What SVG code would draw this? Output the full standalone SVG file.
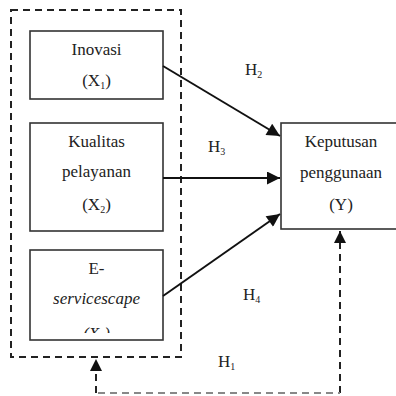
<svg xmlns="http://www.w3.org/2000/svg" width="396" height="396" viewBox="0 0 396 396">
<style>
.box{fill:#fff;stroke:#333;stroke-width:1.6}
text{font-family:"Liberation Serif","Times New Roman",serif;font-size:17px;fill:#222}
.t{text-anchor:middle}
.sub{font-size:10px}
.arr{stroke:#111;stroke-width:2;fill:none;marker-end:url(#ah)}
.dash{stroke:#222;stroke-width:2;fill:none;stroke-dasharray:7,5}
</style>
<defs>
<marker id="ah" viewBox="0 0 10 10" refX="10" refY="5" markerWidth="7" markerHeight="6.5" markerUnits="strokeWidth" orient="auto"><path d="M0,0 L10,5 L0,10 z" fill="#111"/></marker>
<marker id="ahd" viewBox="0 0 10 10" refX="10" refY="5" markerWidth="6" markerHeight="6" markerUnits="strokeWidth" orient="auto"><path d="M0,0 L10,5 L0,10 z" fill="#111"/></marker>
<clipPath id="c3"><rect x="30" y="250" width="133" height="83"/></clipPath>
</defs>
<g id="group-x">
<rect x="11" y="10" width="170" height="347" class="dash"/>
</g>
<g id="x1">
<rect x="30" y="31" width="133" height="68" class="box"/>
<text class="t" x="96.5" y="55">Inovasi</text>
<text class="t" x="96.5" y="86">(X<tspan class="sub" dy="3">1</tspan><tspan dy="-3">)</tspan></text>
</g>
<g id="x2">
<rect x="30" y="123" width="133" height="108" class="box"/>
<text class="t" x="96.5" y="147">Kualitas</text>
<text class="t" x="96.5" y="177">pelayanan</text>
<text class="t" x="96.5" y="210">(X<tspan class="sub" dy="3">2</tspan><tspan dy="-3">)</tspan></text>
</g>
<g id="x3">
<rect x="30" y="250" width="133" height="90" class="box"/>
<text class="t" x="96.5" y="274">E-</text>
<text class="t" x="96.5" y="304" font-style="italic">servicescape</text>
<text class="t" x="96.5" y="339" font-style="italic" clip-path="url(#c3)">(X<tspan class="sub" dy="3">3</tspan><tspan dy="-3">)</tspan></text>
</g>
<g id="y">
<rect x="281" y="123" width="130" height="106" class="box"/>
<text class="t" x="341" y="147">Keputusan</text>
<text class="t" x="341" y="178">penggunaan</text>
<text class="t" x="341" y="210">(Y)</text>
</g>
<g id="connectors">
<line x1="163" y1="66" x2="280" y2="136" class="arr"/>
<line x1="163" y1="178" x2="280" y2="178" class="arr"/>
<line x1="163" y1="296" x2="280" y2="214" class="arr"/>
<path d="M96,393 V359" class="dash" marker-end="url(#ahd)"/>
<path d="M340,393 V231" class="dash" marker-end="url(#ahd)"/>
<path d="M98,393 H340" stroke="#888" stroke-width="2" stroke-dasharray="7,5" fill="none"/>
</g>
<g id="labels">
<text x="245" y="75">H<tspan class="sub" dy="3">2</tspan></text>
<text x="208" y="152">H<tspan class="sub" dy="3">3</tspan></text>
<text x="243" y="300">H<tspan class="sub" dy="3">4</tspan></text>
<text x="218" y="367">H<tspan class="sub" dy="3">1</tspan></text>
</g>
</svg>
